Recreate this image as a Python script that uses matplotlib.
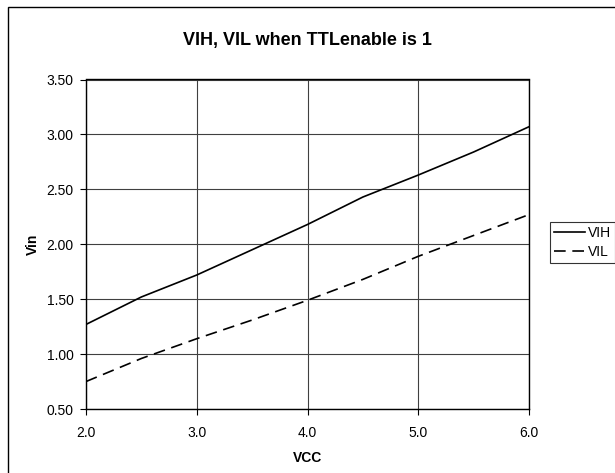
import matplotlib
matplotlib.use("Agg")
import matplotlib.pyplot as plt
from matplotlib.patches import Rectangle

# data
vcc = [2.0, 2.5, 3.0, 3.5, 4.0, 4.5, 5.0, 5.5, 6.0]
vih = [1.27, 1.52, 1.72, 1.95, 2.18, 2.43, 2.63, 2.84, 3.07]
vil = [0.75, 0.96, 1.14, 1.31, 1.49, 1.68, 1.89, 2.08, 2.27]
x_ticks = [2.0, 3.0, 4.0, 5.0, 6.0]
y_ticks = [0.50, 1.00, 1.50, 2.00, 2.50, 3.00, 3.50]

plt.rcParams['font.family'] = ['Liberation Sans', 'DejaVu Sans']

W, H = 615, 473
fig = plt.figure(figsize=(W / 100, H / 100), dpi=100)
ax = fig.add_axes([86 / W, 1 - 409 / H, (529 - 86) / W, (409 - 79.5) / H])

ax.plot(vcc, vih, color='black', lw=1.2, label='VIH')
ax.plot(vcc, vil, color='black', lw=1.2, linestyle=(0, (7, 4)), label='VIL')

ax.set_xlim(2.0, 6.0)
ax.set_ylim(0.5, 3.5)
ax.set_xticks(x_ticks)
ax.set_xticklabels(['%.1f' % v for v in x_ticks])
ax.set_yticks(y_ticks)
ax.set_yticklabels(['%.2f' % v for v in y_ticks])
ax.tick_params(direction='out', length=4, width=0.8, labelsize=10, pad=5,
               colors='black')
ax.tick_params(axis='x', pad=8)
ax.grid(True, color='#404040', lw=0.8)
ax.set_axisbelow(True)
for s in ax.spines.values():
    s.set_color('black')
    s.set_linewidth(1.0)

ax.set_xlabel('VCC', fontsize=10, fontweight='bold', va='center')
ax.set_ylabel('Vin', fontsize=10, fontweight='bold', va='center')
ax.xaxis.set_label_coords(0.5, (409 - 458) / (409 - 79.5))
ax.yaxis.set_label_coords((33 - 86) / (529 - 86), 0.5)
fig.text(307.5 / W, 1 - 40 / H, 'VIH, VIL when TTLenable is 1',
         ha='center', va='center', fontsize=13, fontweight='bold')

leg = ax.legend(loc='upper left', bbox_to_anchor=(550 / W, 1 - 222 / H),
                bbox_transform=fig.transFigure, fontsize=10, frameon=True,
                fancybox=False, handlelength=2.2, handletextpad=0.25,
                borderpad=0.3, labelspacing=0.35, borderaxespad=0)
leg.get_frame().set_edgecolor('black')
leg.get_frame().set_linewidth(0.8)

# outer chart border, cut off at right and bottom like the reference
fig.add_artist(Rectangle((8 / W, -0.1), 1.2, 1.1 - 7 / H,
                         transform=fig.transFigure, fill=False,
                         edgecolor='black', lw=1.0))

fig.savefig('out.png', dpi=100)
